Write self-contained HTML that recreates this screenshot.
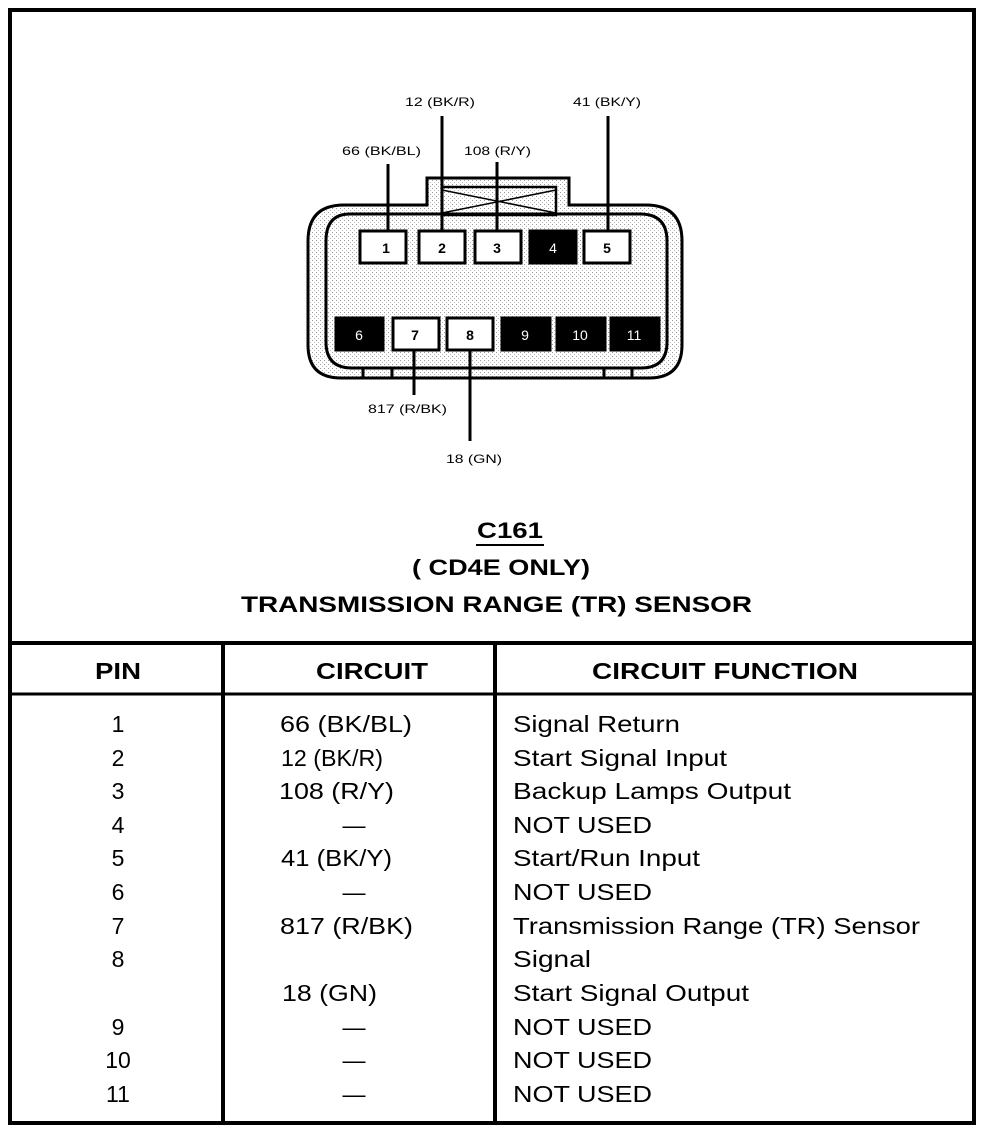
<!DOCTYPE html>
<html><head><meta charset="utf-8"><style>
html,body{margin:0;padding:0;background:#fff}
svg{display:block}
text{font-family:"Liberation Sans",Arial,sans-serif;fill:#000}
</style></head><body>
<svg width="992" height="1132" viewBox="0 0 992 1132" xmlns="http://www.w3.org/2000/svg">
<defs>
<pattern id="dots" width="4" height="4" patternUnits="userSpaceOnUse">
<rect width="4" height="4" fill="#fff"/><rect x="0" y="0" width="1" height="1" fill="#999"/><rect x="2" y="2" width="1" height="1" fill="#bbb"/>
</pattern>
</defs>
<rect x="10" y="10" width="964" height="1113" fill="none" stroke="#000" stroke-width="4"/>
<line x1="10" y1="643" x2="974" y2="643" stroke="#000" stroke-width="4"/>
<line x1="10" y1="694" x2="974" y2="694" stroke="#000" stroke-width="3"/>
<line x1="223" y1="643" x2="223" y2="1123" stroke="#000" stroke-width="4"/>
<line x1="495" y1="643" x2="495" y2="1123" stroke="#000" stroke-width="4"/>

<path d="M427 205 L427 178 L569 178 L569 205 L646 205 Q682 205 682 241 L682 345 Q682 378 649 378 L341 378 Q308 378 308 345 L308 241 Q308 205 344 205 Z" fill="url(#dots)" stroke="#000" stroke-width="3"/>
<rect x="442" y="187" width="114" height="28" fill="none" stroke="#000" stroke-width="2.5"/>
<line x1="442" y1="190" x2="556" y2="213" stroke="#000" stroke-width="1.5"/>
<line x1="442" y1="213" x2="556" y2="190" stroke="#000" stroke-width="1.5"/>
<path d="M350 214 L640 214 Q667 214 667 241 L667 342 Q667 368 641 368 L352 368 Q326 368 326 342 L326 241 Q326 214 350 214 Z" fill="none" stroke="#000" stroke-width="3"/>
<line x1="363" y1="368" x2="363" y2="378" stroke="#000" stroke-width="3"/>
<line x1="392" y1="368" x2="392" y2="378" stroke="#000" stroke-width="3"/>
<line x1="604" y1="368" x2="604" y2="378" stroke="#000" stroke-width="3"/>
<line x1="632" y1="368" x2="632" y2="378" stroke="#000" stroke-width="3"/>

<g stroke="#000" stroke-width="3">
<rect x="360" y="231" width="46" height="32" fill="#fff"/>
<rect x="419" y="231" width="46" height="32" fill="#fff"/>
<rect x="475" y="231" width="46" height="32" fill="#fff"/>
<rect x="530" y="231" width="46" height="32" fill="#000"/>
<rect x="584" y="231" width="46" height="32" fill="#fff"/>
<rect x="336" y="318" width="47" height="32" fill="#000"/>
<rect x="393" y="318" width="46" height="32" fill="#fff"/>
<rect x="447" y="318" width="46" height="32" fill="#fff"/>
<rect x="502" y="318" width="48" height="32" fill="#000"/>
<rect x="557" y="318" width="48" height="32" fill="#000"/>
<rect x="611" y="318" width="48" height="32" fill="#000"/>
</g>
<g font-size="14" font-weight="bold" text-anchor="middle">
<text x="386" y="253">1</text><text x="442" y="253">2</text><text x="497" y="253">3</text>
<text x="553" y="253" style="fill:#fff" font-weight="normal">4</text><text x="607" y="253">5</text>
<text x="359" y="340" style="fill:#fff" font-weight="normal">6</text><text x="415" y="340">7</text><text x="470" y="340">8</text>
<text x="525" y="340" style="fill:#fff" font-weight="normal">9</text><text x="580" y="340" style="fill:#fff" font-weight="normal">10</text><text x="634" y="340" style="fill:#fff" font-weight="normal">11</text>
</g>
<g stroke="#000" stroke-width="3">
<line x1="388" y1="164" x2="388" y2="231"/>
<line x1="442" y1="116" x2="442" y2="231"/>
<line x1="497" y1="162" x2="497" y2="231"/>
<line x1="608" y1="116" x2="608" y2="231"/>
<line x1="414" y1="350" x2="414" y2="395"/>
<line x1="470" y1="350" x2="470" y2="441"/>
</g>
<g font-size="12" lengthAdjust="spacingAndGlyphs">
<text x="405" y="106" textLength="70" lengthAdjust="spacingAndGlyphs">12 (BK/R)</text>
<text x="573" y="106" textLength="68" lengthAdjust="spacingAndGlyphs">41 (BK/Y)</text>
<text x="342" y="155" textLength="79" lengthAdjust="spacingAndGlyphs">66 (BK/BL)</text>
<text x="464" y="155" textLength="67" lengthAdjust="spacingAndGlyphs">108 (R/Y)</text>
<text x="368" y="413" textLength="79" lengthAdjust="spacingAndGlyphs">817 (R/BK)</text>
<text x="446" y="463" textLength="56" lengthAdjust="spacingAndGlyphs">18 (GN)</text>
</g>

<g font-size="22" font-weight="bold">
<text x="477" y="538" textLength="66" lengthAdjust="spacingAndGlyphs">C161</text>
<text x="412" y="575" textLength="178" lengthAdjust="spacingAndGlyphs">( CD4E ONLY)</text>
<text x="241" y="612" textLength="511" lengthAdjust="spacingAndGlyphs">TRANSMISSION RANGE (TR) SENSOR</text>
</g>
<line x1="476" y1="545" x2="544" y2="545" stroke="#000" stroke-width="2"/>

<g font-size="23" font-weight="bold">
<text x="95" y="679" textLength="46" lengthAdjust="spacingAndGlyphs">PIN</text>
<text x="316" y="679" textLength="112" lengthAdjust="spacingAndGlyphs">CIRCUIT</text>
<text x="592" y="679" textLength="266" lengthAdjust="spacingAndGlyphs">CIRCUIT FUNCTION</text>
</g>
<g font-size="23">
<g text-anchor="middle">
<text x="118" y="732">1</text><text x="118" y="766">2</text><text x="118" y="799">3</text>
<text x="118" y="833">4</text><text x="118" y="866">5</text><text x="118" y="900">6</text>
<text x="118" y="934">7</text><text x="118" y="967">8</text>
<text x="118" y="1035">9</text><text x="118" y="1068">10</text><text x="118" y="1102">11</text>
<text x="354" y="833">—</text><text x="354" y="900">—</text>
<text x="354" y="1035">—</text><text x="354" y="1068">—</text><text x="354" y="1102">—</text>
</g>
<text x="280" y="732" textLength="132" lengthAdjust="spacingAndGlyphs">66 (BK/BL)</text>
<text x="281" y="766" textLength="102" lengthAdjust="spacingAndGlyphs">12 (BK/R)</text>
<text x="279" y="799" textLength="115" lengthAdjust="spacingAndGlyphs">108 (R/Y)</text>
<text x="281" y="866" textLength="111" lengthAdjust="spacingAndGlyphs">41 (BK/Y)</text>
<text x="280" y="934" textLength="133" lengthAdjust="spacingAndGlyphs">817 (R/BK)</text>
<text x="282" y="1001" textLength="95" lengthAdjust="spacingAndGlyphs">18 (GN)</text>
<text x="513" y="732" textLength="167" lengthAdjust="spacingAndGlyphs">Signal Return</text>
<text x="513" y="766" textLength="214" lengthAdjust="spacingAndGlyphs">Start Signal Input</text>
<text x="513" y="799" textLength="278" lengthAdjust="spacingAndGlyphs">Backup Lamps Output</text>
<text x="513" y="833" textLength="139" lengthAdjust="spacingAndGlyphs">NOT USED</text>
<text x="513" y="866" textLength="187" lengthAdjust="spacingAndGlyphs">Start/Run Input</text>
<text x="513" y="900" textLength="139" lengthAdjust="spacingAndGlyphs">NOT USED</text>
<text x="513" y="934" textLength="407" lengthAdjust="spacingAndGlyphs">Transmission Range (TR) Sensor</text>
<text x="513" y="967" textLength="78" lengthAdjust="spacingAndGlyphs">Signal</text>
<text x="513" y="1001" textLength="236" lengthAdjust="spacingAndGlyphs">Start Signal Output</text>
<text x="513" y="1035" textLength="139" lengthAdjust="spacingAndGlyphs">NOT USED</text>
<text x="513" y="1068" textLength="139" lengthAdjust="spacingAndGlyphs">NOT USED</text>
<text x="513" y="1102" textLength="139" lengthAdjust="spacingAndGlyphs">NOT USED</text>
</g>
</svg>
</body></html>
